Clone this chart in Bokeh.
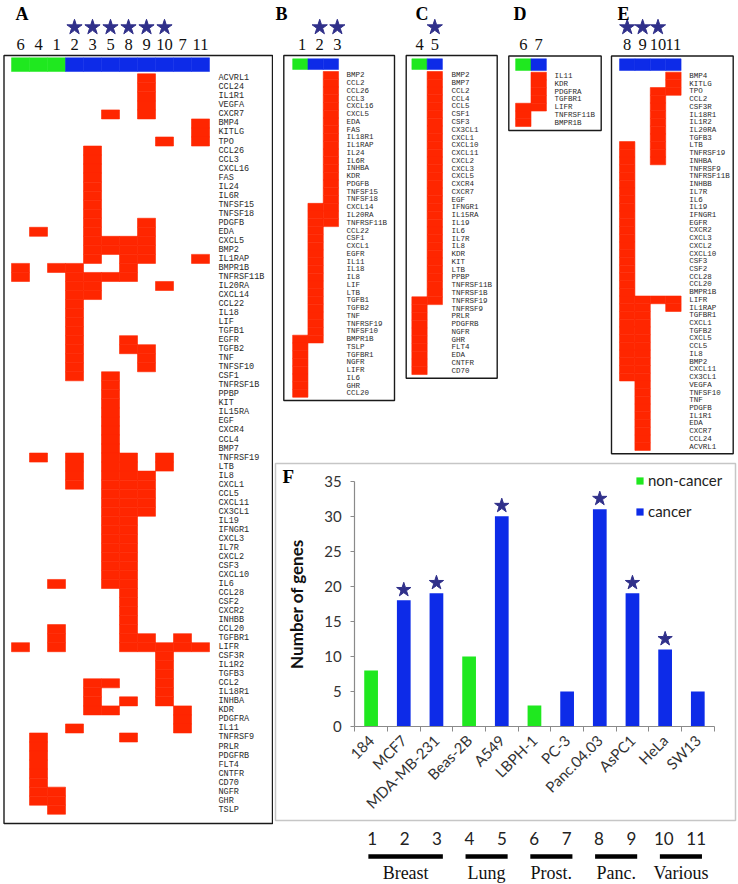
import math
from bokeh.plotting import figure
from bokeh.models import Range1d, FixedTicker
from bokeh.layouts import row, column
from bokeh.embed import file_html
from bokeh.resources import INLINE
from bokeh.core.properties import value

# ---------------- data ----------------
cell_lines = ["184", "MCF7", "MDA-MB-231", "Beas-2B", "A549", "LBPH-1", "PC-3",
              "Panc.04.03", "AsPC1", "HeLa", "SW13"]
line_ids = ["1", "2", "3", "4", "5", "6", "7", "8", "9", "10", "11"]
gene_counts = [8, 18, 19, 10, 30, 3, 5, 31, 19, 11, 5]
is_cancer = [False, True, True, False, True, False, True, True, True, True, True]
starred = [False, True, True, False, True, False, False, True, True, True, False]
tissues = ["Breast", "Lung", "Prost.", "Panc.", "Various"]
tissue_sizes = [3, 2, 2, 2, 2]

genes_line1 = ["BMPR1B", "TSLP", "TGFBR1", "NGFR", "LIFR", "IL6", "GHR", "CCL20"]
genes_line2 = ["CXCL14", "IL20RA", "TNFRSF11B", "CCL22", "CSF1", "CXCL1", "EGFR", "IL11",
               "IL18", "IL8", "LIF", "LTB", "TGFB1", "TGFB2", "TNF", "TNFRSF19", "TNFSF10",
               "BMPR1B"]
genes_line3 = ["BMP2", "CCL2", "CCL26", "CCL3", "CXCL16", "CXCL5", "EDA", "FAS", "IL18R1",
               "IL1RAP", "IL24", "IL6R", "INHBA", "KDR", "PDGFB", "TNFSF15", "TNFSF18",
               "CXCL14", "IL20RA", "TNFRSF11B"]
genes_line4 = ["TNFRSF19", "TNFRSF9", "PRLR", "PDGFRB", "NGFR", "GHR", "FLT4", "EDA",
               "CNTFR", "CD70"]
genes_line5 = ["BMP2", "BMP7", "CCL2", "CCL4", "CCL5", "CSF1", "CSF3", "CX3CL1", "CXCL1",
               "CXCL10", "CXCL11", "CXCL2", "CXCL3", "CXCL5", "CXCR4", "CXCR7", "EGF",
               "IFNGR1", "IL15RA", "IL19", "IL6", "IL7R", "IL8", "KDR", "KIT", "LTB", "PPBP",
               "TNFRSF11B", "TNFRSF1B", "TNFRSF19"]
genes_line6 = ["LIFR", "TNFRSF11B", "BMPR1B"]
genes_line7 = ["IL11", "KDR", "PDGFRA", "TGFBR1", "LIFR"]
genes_line8 = ["LTB", "TNFRSF19", "INHBA", "TNFRSF9", "TNFRSF11B", "INHBB", "IL7R", "IL6",
               "IL19", "IFNGR1", "EGFR", "CXCR2", "CXCL3", "CXCL2", "CXCL10", "CSF3", "CSF2",
               "CCL28", "CCL20", "BMPR1B", "LIFR", "IL1RAP", "TGFBR1", "CXCL1", "TGFB2",
               "CXCL5", "CCL5", "IL8", "BMP2", "CXCL11", "CX3CL1"]
genes_line9 = ["LIFR", "IL1RAP", "TGFBR1", "CXCL1", "TGFB2", "CXCL5", "CCL5", "IL8", "BMP2",
               "CXCL11", "CX3CL1", "VEGFA", "TNFSF10", "TNF", "PDGFB", "IL1R1", "EDA",
               "CXCR7", "CCL24", "ACVRL1"]
genes_line10 = ["TPO", "CCL2", "CSF3R", "IL18R1", "IL1R2", "IL20RA", "TGFB3", "LTB",
                "TNFRSF19", "INHBA", "LIFR"]
genes_line11 = ["BMP4", "KITLG", "TPO", "LIFR", "IL1RAP"]

panel_A_lines = ["6", "4", "1", "2", "3", "5", "8", "9", "10", "7", "11"]
panel_A_genes = ["ACVRL1", "CCL24", "IL1R1", "VEGFA", "CXCR7", "BMP4", "KITLG", "TPO",
                 "CCL26", "CCL3", "CXCL16", "FAS", "IL24", "IL6R", "TNFSF15", "TNFSF18",
                 "PDGFB", "EDA", "CXCL5", "BMP2", "IL1RAP", "BMPR1B", "TNFRSF11B", "IL20RA",
                 "CXCL14", "CCL22", "IL18", "LIF", "TGFB1", "EGFR", "TGFB2", "TNF", "TNFSF10",
                 "CSF1", "TNFRSF1B", "PPBP", "KIT", "IL15RA", "EGF", "CXCR4", "CCL4", "BMP7",
                 "TNFRSF19", "LTB", "IL8", "CXCL1", "CCL5", "CXCL11", "CX3CL1", "IL19",
                 "IFNGR1", "CXCL3", "IL7R", "CXCL2", "CSF3", "CXCL10", "IL6", "CCL28", "CSF2",
                 "CXCR2", "INHBB", "CCL20", "TGFBR1", "LIFR", "CSF3R", "IL1R2", "TGFB3",
                 "CCL2", "IL18R1", "INHBA", "KDR", "PDGFRA", "IL11", "TNFRSF9", "PRLR",
                 "PDGFRB", "FLT4", "CNTFR", "CD70", "NGFR", "GHR", "TSLP"]
panel_B_lines = ["1", "2", "3"]
panel_B_genes = ["BMP2", "CCL2", "CCL26", "CCL3", "CXCL16", "CXCL5", "EDA", "FAS", "IL18R1",
                 "IL1RAP", "IL24", "IL6R", "INHBA", "KDR", "PDGFB", "TNFSF15", "TNFSF18",
                 "CXCL14", "IL20RA", "TNFRSF11B", "CCL22", "CSF1", "CXCL1", "EGFR", "IL11",
                 "IL18", "IL8", "LIF", "LTB", "TGFB1", "TGFB2", "TNF", "TNFRSF19", "TNFSF10",
                 "BMPR1B", "TSLP", "TGFBR1", "NGFR", "LIFR", "IL6", "GHR", "CCL20"]
panel_C_lines = ["4", "5"]
panel_C_genes = ["BMP2", "BMP7", "CCL2", "CCL4", "CCL5", "CSF1", "CSF3", "CX3CL1", "CXCL1",
                 "CXCL10", "CXCL11", "CXCL2", "CXCL3", "CXCL5", "CXCR4", "CXCR7", "EGF",
                 "IFNGR1", "IL15RA", "IL19", "IL6", "IL7R", "IL8", "KDR", "KIT", "LTB", "PPBP",
                 "TNFRSF11B", "TNFRSF1B", "TNFRSF19", "TNFRSF9", "PRLR", "PDGFRB", "NGFR",
                 "GHR", "FLT4", "EDA", "CNTFR", "CD70"]
panel_D_lines = ["6", "7"]
panel_D_genes = ["IL11", "KDR", "PDGFRA", "TGFBR1", "LIFR", "TNFRSF11B", "BMPR1B"]
panel_E_lines = ["8", "9", "10", "11"]
panel_E_genes = ["BMP4", "KITLG", "TPO", "CCL2", "CSF3R", "IL18R1", "IL1R2", "IL20RA",
                 "TGFB3", "LTB", "TNFRSF19", "INHBA", "TNFRSF9", "TNFRSF11B", "INHBB", "IL7R",
                 "IL6", "IL19", "IFNGR1", "EGFR", "CXCR2", "CXCL3", "CXCL2", "CXCL10", "CSF3",
                 "CSF2", "CCL28", "CCL20", "BMPR1B", "LIFR", "IL1RAP", "TGFBR1", "CXCL1",
                 "TGFB2", "CXCL5", "CCL5", "IL8", "BMP2", "CXCL11", "CX3CL1", "VEGFA",
                 "TNFSF10", "TNF", "PDGFB", "IL1R1", "EDA", "CXCR7", "CCL24", "ACVRL1"]

line_sets = dict(zip(line_ids, [genes_line1, genes_line2, genes_line3, genes_line4,
                                genes_line5, genes_line6, genes_line7, genes_line8,
                                genes_line9, genes_line10, genes_line11]))

# ---------------- style ----------------
RED = "#ff2600"
GREEN = "#1fe81f"
BLUE = "#0d2be8"
STAR = "#30308a"


def heat_panel(width, height, left, geo, lines, genes, letter, label_size):
    col0, cw, row0, rh = geo["col0"], geo["cw"], geo["row0"], geo["rh"]
    n_off, n_step = geo.get("num_pos", (0.0, 1.0))

    def fx(v):
        return (v - col0) / cw

    def fy(v):
        return (v - row0) / rh

    p = figure(width=width, height=height, title=None,
               x_range=Range1d(fx(left), fx(left + width)),
               y_range=Range1d(fy(height), fy(0)),
               output_backend="svg", toolbar_location=None, min_border=0,
               x_axis_location=None, y_axis_location=None)
    p.grid.visible = False
    p.outline_line_color = None
    p.background_fill_color = "white"
    p.border_fill_color = "white"

    xs, ys = [], []
    for j, ln in enumerate(lines):
        members = set(line_sets[ln])
        for i, g in enumerate(genes):
            if g in members:
                xs.append(j)
                ys.append(i)
    p.rect(x=xs, y=ys, width=1, height=1, fill_color=RED, line_color=RED, line_width=0.6)

    cols = [BLUE if is_cancer[line_ids.index(ln)] else GREEN for ln in lines]
    n = len(lines)
    p.quad(left=[j - 0.5 for j in range(n)], right=[j + 0.5 for j in range(n)],
           top=[fy(geo["hdr"][0])] * n, bottom=[fy(geo["hdr"][1])] * n,
           fill_color=cols, line_color=cols, line_width=0.5)

    bl, br, bt, bb = geo["box"]
    p.quad(left=[fx(bl)], right=[fx(br)], top=[fy(bt)], bottom=[fy(bb)],
           fill_color=None, line_color="#1a1a1a", line_width=1.4)

    p.text(x=[fx(geo["label_x"])] * len(genes), y=list(range(len(genes))), text=genes,
           text_font=value("Liberation Mono"), text_font_size=value(label_size),
           text_baseline="middle", text_align="left", text_color="#2a2a2a")

    p.text(x=[n_off + j * n_step for j in range(n)], y=[fy(43.5)] * n, text=lines,
           text_font=value("Liberation Serif"), text_font_size=value("16.5px"),
           text_baseline="middle", text_align="center", text_color="#111111")

    sidx = [j for j, ln in enumerate(lines) if starred[line_ids.index(ln)]]
    if sidx:
        p.scatter(x=[n_off + j * n_step for j in sidx], y=[fy(26.8)] * len(sidx),
                  marker="star", size=16, fill_color=STAR, line_color=STAR)

    p.text(x=[fx(geo["letter_x"])], y=[fy(13.5)], text=[letter],
           text_font=value("Liberation Serif"), text_font_style="bold",
           text_font_size=value("18px"), text_baseline="middle", text_align="left",
           text_color="#000000")
    return p


geoA = dict(col0=20.0, cw=18.0, row0=77.8, rh=9.03, box=(3.5, 272, 55, 823),
            hdr=(57.3, 71.0), label_x=218, letter_x=15)
geoB = dict(col0=299.8, cw=15.3, row0=74.9, rh=7.755, box=(283.3, 394, 55, 400),
            hdr=(58.3, 69.0), label_x=346, letter_x=275, num_pos=(0.12, 1.15))
geoC = dict(col0=419.0, cw=15.3, row0=74.9, rh=7.77, box=(405.7, 496.7, 55, 377.7),
            hdr=(58.3, 69.0), label_x=451, letter_x=415)
geoD = dict(col0=522.8, cw=15.4, row0=75.6, rh=7.76, box=(508.3, 600.7, 55.5, 130),
            hdr=(58.3, 70.0), label_x=554, letter_x=513)
geoE = dict(col0=626.7, cw=15.4, row0=75.5, rh=7.72, box=(611, 732.7, 55.5, 453.3),
            hdr=(58.3, 70.0), label_x=688.7, letter_x=617)

TOP_H = 461
figA = heat_panel(273, 883, 0, geoA, panel_A_lines, panel_A_genes, "A", "8.5px")
figB = heat_panel(128, TOP_H, 273, geoB, panel_B_lines, panel_B_genes, "B", "7.5px")
figC = heat_panel(104, TOP_H, 401, geoC, panel_C_lines, panel_C_genes, "C", "7.5px")
figD = heat_panel(102, TOP_H, 505, geoD, panel_D_lines, panel_D_genes, "D", "7.5px")
figE = heat_panel(130, TOP_H, 607, geoE, panel_E_lines, panel_E_genes, "E", "7.5px")

# ---------------- panel F ----------------
F_LEFT, F_TOP, FW, FH, MB = 273, TOP_H, 464, 361, 2
CAT0, CAT_PX = 370.6, 32.67      # page x of first category centre, px per category
Y0, UNIT_PX = 726.0, 7.01        # page y of zero, px per gene


def cx(v):
    return (v - CAT0) / CAT_PX


def cy(v):
    return (Y0 - v) / UNIT_PX


fF = figure(width=FW, height=FH, title=None,
            x_range=Range1d(cx(F_LEFT + MB), cx(F_LEFT + FW - MB)),
            y_range=Range1d(cy(F_TOP + FH - MB), cy(F_TOP + MB)),
            output_backend="svg", toolbar_location=None, min_border=MB)
fF.grid.visible = False
fF.outline_line_color = "#c6c6c6"
fF.outline_line_width = 1.5

idx = list(range(len(cell_lines)))
nc = [i for i in idx if not is_cancer[i]]
ca = [i for i in idx if is_cancer[i]]
fF.vbar(x=nc, top=[gene_counts[i] for i in nc], width=0.42, fill_color=GREEN,
        line_color=None, legend_label="non-cancer")
fF.vbar(x=ca, top=[gene_counts[i] for i in ca], width=0.42, fill_color=BLUE,
        line_color=None, legend_label="cancer")
st = [i for i in idx if starred[i]]
fF.scatter(x=st, y=[gene_counts[i] + 1.5 for i in st], marker="star", size=15,
           fill_color=STAR, line_color=STAR)
fF.text(x=[cx(282.0)], y=[cy(475.5)], text=["F"], text_font=value("Liberation Serif"),
        text_font_style="bold", text_font_size=value("19px"), text_baseline="middle",
        text_align="left", text_color="#000000")

ya = fF.yaxis[0]
ya.fixed_location = -0.5
ya.ticker = FixedTicker(ticks=[0, 5, 10, 15, 20, 25, 30, 35])
ya.bounds = (0, 35)
ya.axis_line_color = "#8a8a8a"
ya.axis_line_width = 1.2
ya.major_tick_line_color = "#8a8a8a"
ya.major_tick_out = 4
ya.major_tick_in = 0
ya.minor_tick_line_color = None
ya.major_label_text_font = "Lato"
ya.major_label_text_font_size = "15px"
ya.major_label_text_color = "#333333"
ya.major_label_standoff = 9
ya.axis_label = "Number of genes"
ya.axis_label_text_font = "Lato"
ya.axis_label_text_font_style = "bold"
ya.axis_label_text_font_size = "17px"
ya.axis_label_text_color = "#111111"
ya.axis_label_standoff = 14

xa = fF.xaxis[0]
xa.fixed_location = 0
xa.ticker = FixedTicker(ticks=idx, minor_ticks=[i - 0.5 for i in range(len(idx) + 1)])
xa.bounds = (-0.5, len(idx) - 0.5)
xa.major_label_overrides = {i: cell_lines[i] for i in idx}
xa.axis_line_color = "#8a8a8a"
xa.axis_line_width = 1.2
xa.major_tick_out = 0
xa.major_tick_in = 0
xa.minor_tick_out = 5
xa.minor_tick_in = 0
xa.minor_tick_line_color = "#8a8a8a"
xa.major_label_orientation = math.pi / 4
xa.major_label_text_font = "Lato"
xa.major_label_text_font_size = "15px"
xa.major_label_text_color = "#333333"
xa.major_label_standoff = 6

lg = fF.legend[0]
lg.location = (635 - (F_LEFT + MB), (F_TOP + FH - MB) - 520)
lg.margin = 0
lg.padding = 0
lg.spacing = 13
lg.border_line_color = None
lg.background_fill_alpha = 0
lg.label_text_font = "Lato"
lg.label_text_font_size = "15px"
lg.label_text_color = "#222222"
lg.glyph_width = 9
lg.glyph_height = 9
lg.label_standoff = 4
lg.label_height = 18

# ---------------- bottom labels ----------------
B_TOP, BH = F_TOP + FH, 61
fBot = figure(width=FW, height=BH, title=None,
              x_range=Range1d(cx(F_LEFT), cx(F_LEFT + FW)),
              y_range=Range1d(B_TOP + BH, B_TOP),
              output_backend="svg", toolbar_location=None, min_border=0,
              x_axis_location=None, y_axis_location=None)
fBot.grid.visible = False
fBot.outline_line_color = None
fBot.text(x=idx, y=[837.5] * len(idx), text=line_ids, text_font=value("Lato"),
          text_font_size=value("17px"), text_align="center", text_baseline="middle",
          text_color="#222222")
starts, ends = [], []
pos = 0
for s in tissue_sizes:
    starts.append(pos)
    ends.append(pos + s - 1)
    pos += s
fBot.segment(x0=[a - 0.12 for a in starts], x1=[b + 0.18 for b in ends],
             y0=[856.0] * len(starts), y1=[856.0] * len(starts),
             line_width=4.5, line_color="#000000")
fBot.text(x=[(a + b) / 2 + 0.03 for a, b in zip(starts, ends)], y=[872.0] * len(starts),
          text=tissues, text_font=value("Liberation Serif"), text_font_size=value("18px"),
          text_align="center", text_baseline="middle", text_color="#111111")

layout = row(figA, column(row(figB, figC, figD, figE), fF, fBot))
open("out.html", "w").write(file_html(layout, INLINE))
